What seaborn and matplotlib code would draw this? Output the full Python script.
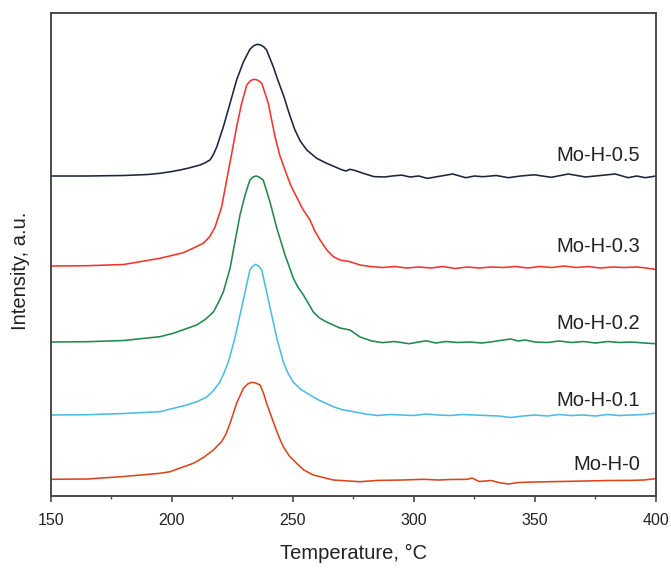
import pandas as pd
import matplotlib.pyplot as plt
import seaborn as sns

# values (intensity in a.u., curves already stacked)
samples = ['Mo-H-0.5', 'Mo-H-0.3', 'Mo-H-0.2', 'Mo-H-0.1', 'Mo-H-0']
colors = ['#1c2541', '#f2342c', '#1f8a4c', '#4cbde0', '#d9461c']

t_h05 = [150, 165, 180, 190, 195, 200, 203.3, 207, 211.6, 213.5, 215.7, 217, 218.5, 221.2, 224,
         226.7, 229.5, 232.2, 233.8, 235.2, 236.7, 237.9, 239.1, 241.9, 243.3, 246.3, 248.5,
         250.8, 253, 255.7, 259.8, 263.9, 270.1, 271.9, 273.6, 275.5, 279, 283.4, 287.8, 291,
         294.9, 298.4, 302, 305.5, 310, 316, 321.4, 325, 328.5, 334, 339, 344, 349.7, 356.7,
         363.8, 370.9, 377, 383.2, 388.5, 392, 395.6, 400]
i_h05 = [320, 320, 320.5, 321.5, 322.7, 324.5, 326, 328, 331, 333, 336, 341, 349, 369, 392.7,
         416, 434, 446.7, 450.3, 451.7, 451, 449.2, 446, 429, 419, 399, 382,
         366, 355, 346, 337.7, 332.7, 326.3, 325, 326.7, 325.6, 322.7, 319.4, 319, 320,
         320.9, 319, 320, 317.6, 319.5, 322, 318.3, 320, 319.3, 320.5, 318.3, 320, 321.2, 318.7,
         322, 319, 320.5, 322, 318.3, 320, 318.3, 320]

t_h03 = [150, 165, 180, 195, 204.7, 208.5, 212.9, 215.5, 217.8, 220.5, 222.6, 224.7, 226.7,
         228.8, 230.9, 232.5, 234.0, 235.5, 237.1, 239.8, 242.6, 244.5, 246.7, 249, 251.5, 254,
         257, 259, 261.2, 264, 266.7, 269.4, 273.6, 277.7, 282, 287, 292, 297, 302, 307, 312,
         317, 322, 327, 332, 337, 342, 347, 352, 357, 362, 367, 372, 377, 382, 387, 392, 396, 400]
i_h03 = [230, 230.3, 231.5, 237.7, 243.3, 247.5, 252.7, 259, 269, 289, 316, 342.7, 369,
         392.7, 411, 415.5, 416.7, 415.8, 412.7, 392.7, 359, 341, 326, 311, 299, 287,
         276, 265, 256, 246, 239.3, 236, 234.3, 231, 229.5, 228.5, 229.5, 228, 229, 228, 229.5,
         227.5, 229, 228, 229, 228.5, 229.5, 228, 229.5, 228.5, 230, 228.5, 229.5, 228, 229,
         228.5, 229, 228, 226.5]

t_h02 = [150, 165, 180, 195, 200.5, 210.2, 214, 217.1, 219, 221.2, 224, 226, 228.1, 230.2,
         232.2, 233.5, 234.7, 236.0, 237.7, 240.5, 243.3, 246.7, 248.5, 250.1, 252, 254.3,
         256.5, 258.4, 261, 263.9, 269.4, 273.6, 277.7, 282.6, 287, 292, 298, 302, 305, 309,
         313, 318, 323, 328, 333, 337, 340, 343, 346, 350, 355, 360, 365, 370, 375, 380, 385,
         390, 395, 400]
i_h02 = [154, 154.3, 155.5, 159.3, 162.7, 171, 177, 184, 192.5, 204, 227.7, 254, 281, 301,
         316, 319, 320, 319, 316, 294, 268, 241, 229, 218, 209, 201,
         192, 184, 178, 174, 168, 166, 159, 155, 153.4, 154.5, 152.3, 154, 155.2, 153,
         154.5, 153.5, 154, 153, 154.5, 156, 157, 155, 156, 154, 153.5, 155, 153.5, 154.5, 153,
         154.5, 153.5, 154, 153, 152.3]

t_h01 = [150, 165, 180, 195, 206.1, 210.5, 214.3, 217, 219.8, 221.5, 223.3, 226, 228.1, 230.2,
         232.2, 233.5, 234.6, 235.8, 237.1, 239.1, 241.2, 243.3, 246, 248, 250.1, 253, 257, 261,
         266.7, 270, 274.9, 280, 285, 290, 295, 300, 305, 310, 315, 320, 325, 330, 335, 340,
         345, 350, 355, 360, 365, 370, 375, 380, 385, 390, 395, 400]
i_h01 = [81, 81.3, 82.5, 84.3, 91, 94.5, 99, 105, 114, 123, 134, 158, 181, 204,
         226, 230, 231.7, 230, 226, 204, 181, 158, 134, 122.5, 114, 107, 101, 95.5,
         89.3, 86.5, 84.3, 82, 80.5, 81.5, 81, 80.5, 82, 81, 80.5, 81.5, 81, 80.5, 80, 78.5,
         80, 81, 80, 81.5, 80.5, 81, 80, 81.5, 80.5, 81, 81.5, 83]

t_h0 = [150, 165, 180, 195, 199.2, 208.8, 213, 217.1, 220.5, 222.3, 224, 226.7, 229.5, 231.3,
        232.9, 234.6, 236.4, 237.8, 239.1, 242.6, 244.3, 246, 248.5, 251.5, 254.5, 258.4,
        266.7, 277.7, 285, 295, 304, 310, 315, 322, 324, 327, 332, 335, 339, 343, 350, 360,
        371, 380, 389, 395, 400]
i_h0 = [16.7, 17, 19.5, 22.7, 24.3, 32.7, 38.5, 46, 54.3, 62, 72.7, 92.7, 107.7, 112,
        113.7, 113, 111, 103, 92.7, 69.3, 58.5, 49.3, 40, 32.7, 26, 21,
        16, 14.3, 15.6, 16, 16.7, 16, 16.5, 16.7, 18, 14.5, 15.5, 13.5, 12, 13.5, 14, 14.5,
        15, 15.5, 15.6, 16, 17.4]

# label positions (right edge temperature, intensity)
label_t = 393.5
label_y = [341, 250, 173, 96, 31.5]

frames = []
for name, t, i in zip(samples,
                      [t_h05, t_h03, t_h02, t_h01, t_h0],
                      [i_h05, i_h03, i_h02, i_h01, i_h0]):
    frames.append(pd.DataFrame({'Temperature': t, 'Intensity': i, 'sample': name}))
df = pd.concat(frames, ignore_index=True)

sns.set_style('ticks')
plt.rcParams['font.family'] = ['Liberation Sans', 'DejaVu Sans']

fig = plt.figure(figsize=(6.71, 5.70), dpi=100)
ax = fig.add_axes([0.076, 0.1298, 0.9016, 0.8474])

sns.lineplot(data=df, x='Temperature', y='Intensity', hue='sample', hue_order=samples,
             palette=colors, estimator=None, legend=False, linewidth=1.15, ax=ax)
for line in ax.get_lines():
    line.set_solid_joinstyle('round')

for name, y in zip(samples, label_y):
    ax.text(label_t, y, name, ha='right', va='center', fontsize=14.5, color='#222222')

ax.set_xlim(150, 400)
ax.set_ylim(0, 483)
ax.set_xticks([150, 200, 250, 300, 350, 400])
ax.set_xticks([175, 225, 275, 325, 375], minor=True)
ax.set_yticks([])

for sp in ax.spines.values():
    sp.set_color('#4a4a4a')
    sp.set_linewidth(1.4)

ax.tick_params(axis='x', which='major', direction='out', length=4.5, width=1.2,
               color='#4a4a4a', pad=7.5, labelsize=11.5, labelcolor='#222222')
ax.tick_params(axis='x', which='minor', direction='out', length=2.5, width=1.0, color='#4a4a4a')

ax.set_xlabel('Temperature, °C', fontsize=14.5, color='#222222', va='center')
ax.set_ylabel('Intensity, a.u.', fontsize=14.5, color='#222222', va='center')
ax.xaxis.set_label_coords(0.5, -0.118)
ax.yaxis.set_label_coords(-0.0496, 0.466)

fig.savefig('out.png', dpi=100)
